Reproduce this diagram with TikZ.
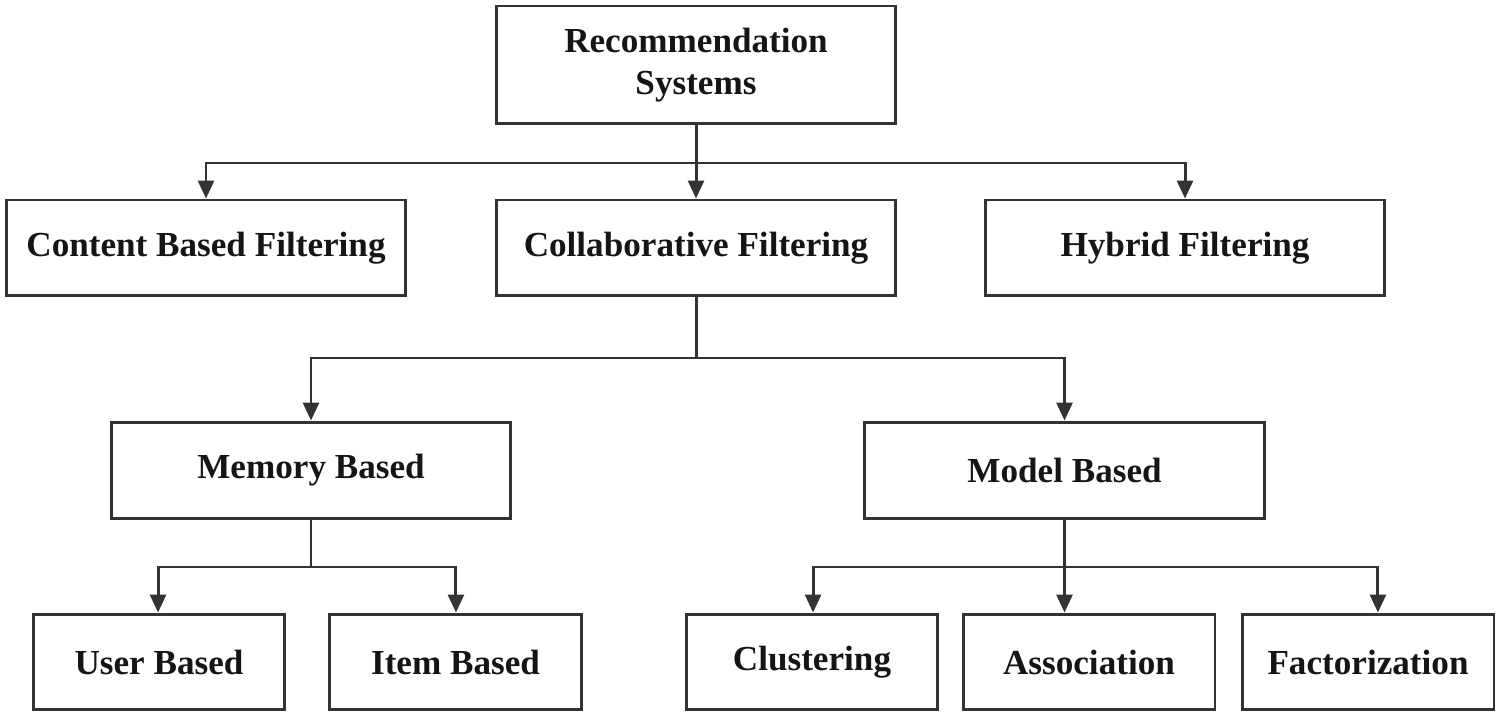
\documentclass[tikz,border=0pt]{standalone}
\usepackage{fontspec}
\setmainfont{Liberation Serif}
\usetikzlibrary{arrows.meta}
\definecolor{ln}{HTML}{333333}
\definecolor{tx}{HTML}{151515}
\begin{document}
\begin{tikzpicture}[x=0.02cm,y=-0.02cm,
  box/.style={draw=ln,line width=1.7pt,inner sep=0pt,font=\bfseries\fontsize{20}{24}\selectfont,text=tx,align=center},
  conn/.style={draw=ln,line width=1.7pt},
  arr/.style={conn,-{Triangle[length=0.36cm,width=0.32cm]}}]
\useasboundingbox (0,0) rectangle (1500,715);
\fill[white] (0,0) rectangle (1500,715);
% boxes: centre and size in px
\node[box,minimum width=8cm,minimum height=2.36cm] (rs) at (696,65) {Recommendation\\Systems};
\node[box,minimum width=8cm,minimum height=1.92cm] (cb) at (206,248) {Content Based Filtering};
\node[box,minimum width=8cm,minimum height=1.92cm] (cf) at (696,248) {Collaborative Filtering};
\node[box,minimum width=8cm,minimum height=1.92cm] (hf) at (1185,248) {Hybrid Filtering};
\node[box,minimum width=8cm,minimum height=1.94cm] (mem) at (311,470.5) {Memory Based};
\node[box,minimum width=8cm,minimum height=1.94cm] (mod) at (1064.5,470.5) {Model Based};
\node[box,minimum width=5.04cm,minimum height=1.92cm] (ub) at (159,662) {User Based};
\node[box,minimum width=5.04cm,minimum height=1.92cm] (ib) at (455.5,662) {Item Based};
\node[box,minimum width=5.04cm,minimum height=1.92cm] (cl) at (812,662) {Clustering};
\node[box,minimum width=5.04cm,minimum height=1.92cm] (as) at (1089,662) {Association};
\node[box,minimum width=5.04cm,minimum height=1.92cm] (fa) at (1368,662) {Factorization};
% junctions
\coordinate (j1) at (696,163);
\coordinate (j2) at (696,358);
\coordinate (j3) at (311,567);
\coordinate (j4) at (1064.5,567);
% level 1
\draw[conn] (rs.south) -- (j1);
\draw[arr] (j1) -| (cb.north);
\draw[arr] (j1) -- (cf.north);
\draw[arr] (j1) -| (hf.north);
% level 2
\draw[conn] (cf.south) -- (j2);
\draw[arr] (j2) -| (mem.north);
\draw[arr] (j2) -| (mod.north);
% level 3
\draw[conn] (mem.south) -- (j3);
\draw[arr] (j3) -| ([xshift=-3.06cm]mem.south |- ub.north) coordinate (ubt);
\draw[arr] (j3) -| ([xshift=2.9cm]mem.south |- ib.north);
\draw[conn] (mod.south) -- (j4);
\draw[arr] (j4) -| ([xshift=-5.03cm]mod.south |- cl.north);
\draw[arr] (j4) -- (j4 |- as.north);
\draw[arr] (j4) -| ([xshift=6.27cm]mod.south |- fa.north);
\end{tikzpicture}
\end{document}
